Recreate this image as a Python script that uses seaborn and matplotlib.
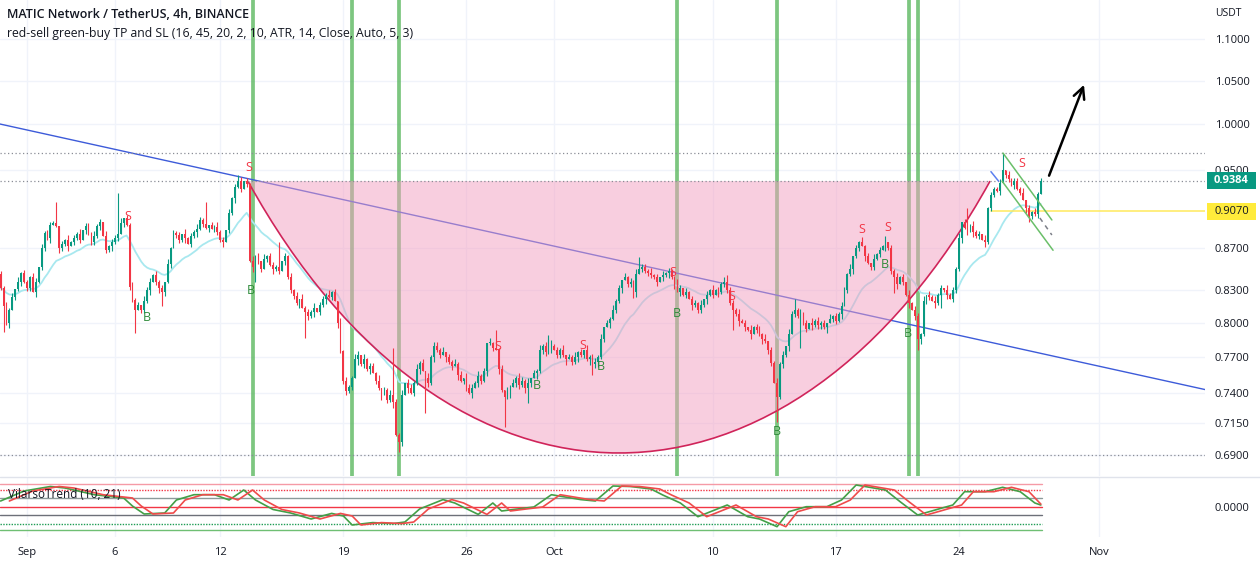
import numpy as np
import pandas as pd
import matplotlib
matplotlib.use("Agg")
import matplotlib.pyplot as plt
from matplotlib.path import Path
from matplotlib.patches import PathPatch, Rectangle
from matplotlib.transforms import IdentityTransform
from matplotlib.ticker import NullLocator, NullFormatter
import seaborn as sns

# ---------------- data (4h candles, MATIC/USDT, Aug 30 12:00 -> Oct 28) ----------------
closes = [
    0.832, 0.815, 0.800, 0.812, 0.824, 0.831, 0.838, 0.846, 0.838, 0.832,
    0.842, 0.828, 0.838, 0.852, 0.870, 0.885, 0.880, 0.893, 0.895, 0.892,
    0.870, 0.874, 0.878, 0.872, 0.876, 0.880, 0.884, 0.878, 0.888, 0.892,
    0.884, 0.876, 0.882, 0.892, 0.896, 0.882, 0.868, 0.872, 0.876, 0.880,
    0.884, 0.895, 0.900, 0.893, 0.833, 0.821, 0.812, 0.816, 0.812, 0.820,
    0.830, 0.838, 0.844, 0.838, 0.832, 0.828, 0.838, 0.855, 0.870, 0.885,
    0.883, 0.878, 0.884, 0.880, 0.874, 0.882, 0.886, 0.889, 0.898, 0.894,
    0.890, 0.893, 0.889, 0.891, 0.886, 0.878, 0.876, 0.888, 0.905, 0.920,
    0.932, 0.938, 0.930, 0.938, 0.935, 0.858, 0.852, 0.862, 0.858, 0.850,
    0.860, 0.862, 0.854, 0.850, 0.852, 0.848, 0.858, 0.862, 0.842, 0.830,
    0.825, 0.818, 0.822, 0.814, 0.810, 0.806, 0.810, 0.814, 0.810, 0.816,
    0.822, 0.826, 0.824, 0.828, 0.820, 0.800, 0.775, 0.750, 0.741, 0.745,
    0.752, 0.768, 0.772, 0.764, 0.768, 0.760, 0.762, 0.756, 0.750, 0.744,
    0.738, 0.742, 0.734, 0.738, 0.732, 0.706, 0.700, 0.738, 0.748, 0.744,
    0.740, 0.748, 0.760, 0.765, 0.758, 0.752, 0.748, 0.770, 0.780, 0.776,
    0.772, 0.774, 0.770, 0.766, 0.762, 0.764, 0.755, 0.750, 0.752, 0.744,
    0.740, 0.744, 0.748, 0.754, 0.750, 0.758, 0.782, 0.782, 0.778, 0.776,
    0.760, 0.742, 0.736, 0.740, 0.745, 0.748, 0.752, 0.746, 0.750, 0.744,
    0.748, 0.752, 0.756, 0.758, 0.776, 0.780, 0.774, 0.778, 0.780, 0.776,
    0.772, 0.776, 0.772, 0.768, 0.770, 0.766, 0.770, 0.774, 0.772, 0.776,
    0.768, 0.770, 0.764, 0.766, 0.770, 0.786, 0.796, 0.800, 0.804, 0.812,
    0.820, 0.832, 0.840, 0.842, 0.836, 0.838, 0.828, 0.845, 0.850, 0.852,
    0.848, 0.846, 0.844, 0.842, 0.838, 0.842, 0.844, 0.846, 0.848, 0.842,
    0.836, 0.828, 0.832, 0.826, 0.828, 0.822, 0.816, 0.818, 0.812, 0.816,
    0.822, 0.826, 0.830, 0.826, 0.830, 0.828, 0.836, 0.838, 0.830, 0.818,
    0.812, 0.808, 0.802, 0.800, 0.796, 0.794, 0.790, 0.796, 0.794, 0.790,
    0.786, 0.784, 0.776, 0.765, 0.748, 0.736, 0.764, 0.772, 0.780, 0.790,
    0.808, 0.812, 0.806, 0.808, 0.800, 0.795, 0.800, 0.798, 0.802, 0.798,
    0.800, 0.796, 0.800, 0.804, 0.806, 0.802, 0.808, 0.815, 0.830, 0.845,
    0.850, 0.862, 0.870, 0.876, 0.872, 0.862, 0.856, 0.852, 0.860, 0.864,
    0.868, 0.872, 0.876, 0.870, 0.848, 0.842, 0.836, 0.842, 0.838, 0.826,
    0.818, 0.812, 0.806, 0.786, 0.790, 0.820, 0.826, 0.824, 0.820, 0.818,
    0.826, 0.832, 0.830, 0.826, 0.822, 0.830, 0.850, 0.880, 0.896, 0.890,
    0.886, 0.892, 0.886, 0.882, 0.884, 0.878, 0.876, 0.910, 0.924, 0.930,
    0.928, 0.936, 0.950, 0.944, 0.940, 0.934, 0.938, 0.930, 0.926, 0.918,
    0.910, 0.902, 0.906, 0.904, 0.925, 0.9384,
]
first_open = 0.845
wick_unit = 0.0015
upper_wicks = ("2131203121" "1320312213" "0213121302" "2131203122" "1302131203" "2213120312"
               "1203121321" "3021312031" "2130213120" "3122130213" "1203121302" "2131203121"
               "1320312213" "0213121302" "2131203122" "1302131203" "2213120312" "1203121321"
               "3021312031" "2130213120" "3122130213" "1203121302" "2131203121" "1320312213"
               "0213121302" "2131203122" "1302131203" "2213120312" "1203121321" "3021312031"
               "2130213120" "3122130213" "1203121302" "2131203121" "1320312213" "0213121302")
lower_wicks = ("1213021312" "2031221301" "3213021203" "1221302131" "2031213022" "1302312130"
               "2213021312" "1302213021" "3120213122" "0213120312" "2130221302" "1312031221"
               "2031213021" "3021312203" "1213022131" "2031203122" "1302213120" "3121302213"
               "1203122130" "2213021312" "1302312031" "2130221302" "1221302131" "3021203122"
               "1312031221" "2130213021" "3122031213" "0213120312" "2130221302" "1312031221"
               "2031213021" "3021312203" "1213022131" "2031203122" "1302213120" "3121302213")
high_marks = {19: 0.916, 40: 0.926, 70: 0.916, 81: 0.944, 95: 0.876, 134: 0.778,
              169: 0.794, 187: 0.789, 218: 0.861, 248: 0.844, 271: 0.822, 294: 0.881,
              302: 0.882, 330: 0.910, 342: 0.968}
low_marks = {1: 0.792, 46: 0.791, 55: 0.815, 76: 0.873, 87: 0.838, 104: 0.787,
             136: 0.692, 145: 0.723, 172: 0.712, 180: 0.731, 202: 0.755, 216: 0.823,
             250: 0.794, 265: 0.716, 273: 0.778, 305: 0.827, 313: 0.776, 321: 0.814,
             351: 0.896}

# date axis (candle index of each label)
date_tick_idx = [9, 39, 75, 117, 159, 189, 243, 285, 327, 375]
date_tick_lab = ["Sep", "6", "12", "19", "26", "Oct", "10", "17", "24", "Nov"]
price_ticks = [0.69, 0.715, 0.74, 0.77, 0.80, 0.83, 0.87, 0.95, 1.00, 1.05, 1.10]

# signal vertical lines (candle index)
signal_idx = [86, 120, 136, 231, 265, 310, 313]
# S / B markers: (index, price)
sell_marks = [(43.5, 0.901), (84.8, 0.952), (169.8, 0.779), (198.8, 0.780), (229.5, 0.847),
              (249.6, 0.824), (294.0, 0.888), (302.9, 0.890), (348.6, 0.957)]
buy_marks = [(50.0, 0.805), (85.5, 0.830), (183.0, 0.746), (204.9, 0.762), (230.8, 0.809),
             (265.0, 0.708), (301.9, 0.854), (309.7, 0.791)]

# drawings
trend_pts = [(-0.2, 1.000), (411.06, 0.7425)]
cup_pts = [(84.4, 0.938), (152.7, 0.6247), (269.4, 0.6247), (337.7, 0.938)]
chan_upper = [(342.1, 0.968), (358.8, 0.898)]
chan_lower = [(341.8, 0.938), (359.2, 0.868)]
blue_seg = [(338.0, 0.948), (340.6, 0.938)]
dash_seg = [(354.7, 0.900), (358.8, 0.883)]
arrow_tail = (357.5, 0.941)
arrow_head = (370.1, 1.048)
dotted_levels = [0.968, 0.9384, 0.69]
last_price = 0.9384
yellow_level = 0.9070
yellow_start = 338

# VilarsoTrend oscillator
osc_idx = [0, 8, 17, 22, 32, 42, 45, 49, 56, 60, 66, 73, 78, 83, 87, 93, 99, 106, 113, 117,
           120, 127, 134, 138, 143, 151, 155, 163, 168, 171, 175, 182, 188, 198, 203, 209, 215,
           222, 226, 232, 238, 248, 255, 259, 265, 269, 275, 282, 287, 292, 302, 307, 313, 321,
           325, 329, 336, 342, 348, 353, 355]
osc_val = [0.6, 1.6, 2.05, 1.9, 1.23, 0.9, 0.1, -0.7, -0.6, 0.7, 1.23, 1.23, 0.7, 1.7, 0.7,
           -0.25, -0.6, -1.2, -0.64, -0.9, -1.8, -1.56, -1.66, -1.5, -0.2, 0.74, 0.4, -0.74,
           0.4, -0.4, -0.25, 0.0, 1.23, 0.74, 0.6, 2.1, 2.05, 1.8, 1.2, 0.4, -0.97, 0.2, -0.97,
           -1.2, -1.97, -0.47, 0.03, 0.03, 0.7, 2.2, 1.7, 0.53, -0.8, -0.13, 0.2, 1.53, 1.53,
           1.97, 1.53, 0.4, 0.2]
osc_levels = [2.3, 1.7, 0.9, 0.0, -0.8, -1.7, -2.3]

# ---------------- styling ----------------
sns.set_style("white")
plt.rcParams["font.family"] = ["Open Sans", "DejaVu Sans"]
GREEN = "#089981"
RED = "#f23645"
TXT = "#131722"
GRID = "#f0f3fa"

W, H = 1260, 565
fig = plt.figure(figsize=(W / 100, H / 100), dpi=100)
ax = fig.add_axes([0, 1 - 476 / H, 1205 / W, 476 / H])
ax2 = fig.add_axes([0, 1 - 537 / H, 1205 / W, 59 / H])

n = len(closes)
idx = np.arange(n)
close = np.array(closes)
open_ = np.r_[first_open, close[:-1]]
up_w = np.array([int(c) for c in upper_wicks[:n]]) * wick_unit
lo_w = np.array([int(c) for c in lower_wicks[:n]]) * wick_unit
high = np.maximum(open_, close) + up_w
low = np.minimum(open_, close) - lo_w
for k, v in high_marks.items():
    high[k] = max(high[k], v)
for k, v in low_marks.items():
    low[k] = min(low[k], v)
df = pd.DataFrame(dict(idx=idx, open=open_, close=close, high=high, low=low))
df["ema"] = df["close"].ewm(span=20, adjust=False).mean()

XMIN, XMAX = -0.2, 411.06
ax.set_yscale("log")
ax.set_xlim(XMIN, XMAX)
ax.set_ylim(0.6739, 1.1492)

# grid
ax.set_yticks(price_ticks)
ax.set_yticklabels([f"{p:.4f}" for p in price_ticks])
ax.yaxis.set_minor_locator(NullLocator())
ax.yaxis.set_minor_formatter(NullFormatter())
ax.yaxis.tick_right()
ax.set_xticks(date_tick_idx)
ax.set_xticklabels([])
ax.grid(True, color=GRID, lw=1, zorder=0)
ax.tick_params(axis="y", length=0, pad=7, labelsize=8, labelcolor=TXT)
ax.tick_params(axis="x", length=0)
for s in ax.spines.values():
    s.set_visible(False)

# signal lines
for i in signal_idx:
    ax.axvline(i, color="#5cb860", alpha=0.8, lw=2.7, zorder=1.5)

# moving average
sns.lineplot(data=df, x="idx", y="ema", ax=ax, color="#a8e8ef", lw=1.3, zorder=2)
ax.set_xlabel("")
ax.set_ylabel("")

# trend line
ax.plot([p[0] for p in trend_pts], [p[1] for p in trend_pts], color="#3d5bd9", lw=1, zorder=2.2)

# cup
codes = [Path.MOVETO, Path.CURVE4, Path.CURVE4, Path.CURVE4]
cup_fill = PathPatch(Path(cup_pts + [cup_pts[0]], codes + [Path.CLOSEPOLY]),
                     fc="#f39fc1", ec="none", alpha=0.5, zorder=3)
ax.add_patch(cup_fill)
ax.add_patch(PathPatch(Path(cup_pts, codes), fc="none", ec="#d0245a", lw=1.2, zorder=3.1))

# levels
for lv in dotted_levels:
    ax.axhline(lv, color="#8a8d96", lw=0.9, ls=(0, (1, 2)), zorder=3.2)
ax.plot([yellow_start, XMAX], [yellow_level] * 2, color="#ffe95c", lw=1.1, zorder=3.2)

# candles
cols = np.where(close >= open_, GREEN, RED)
ax.vlines(idx, low, high, colors=cols, lw=0.8, zorder=4)
body = np.maximum(np.abs(close - open_), 0.0009)
ax.bar(idx, body, bottom=np.minimum(open_, close), width=0.62, color=cols, lw=0, zorder=4)

# channel & other drawings
for seg, c, ls in [(chan_upper, "#6abf69", "-"), (chan_lower, "#6abf69", "-"),
                   (blue_seg, "#5b7ff0", "-"), (dash_seg, "#7c7f88", (0, (3, 3)))]:
    ax.plot([p[0] for p in seg], [p[1] for p in seg], color=c, lw=1.1, ls=ls, zorder=5)
ax.annotate("", xy=arrow_head, xytext=arrow_tail,
            arrowprops=dict(arrowstyle="->", lw=1.8, color="black", mutation_scale=20), zorder=6)

# S/B labels
for x, y in sell_marks:
    ax.text(x, y, "S", color=RED, fontsize=9, ha="center", va="center", zorder=6)
for x, y in buy_marks:
    ax.text(x, y, "B", color="#2e8b3a", fontsize=9, ha="center", va="center", zorder=6)

# ---------------- indicator panel ----------------
ax2.set_xlim(XMIN, XMAX)
ax2.set_ylim(-3.0, 2.9)
lvl_style = [("#f59aa6", "-"), (RED, (0, (1, 1))), ("#8c9a9a", "-"), (RED, "-"),
             ("#6d7079", "-"), ("#1f9d55", (0, (1, 1))), ("#6fbf73", "-")]
for lv, (c, ls) in zip(osc_levels, lvl_style):
    ax2.plot([XMIN, 355.5], [lv, lv], color=c, lw=1.0, ls=ls, zorder=2)
osc_df = pd.DataFrame(dict(i=osc_idx, v=osc_val))
osc_df["i_sig"] = np.minimum(osc_df["i"] + 3, 355)
sns.lineplot(data=osc_df, x="i", y="v", ax=ax2, color="#43a047", lw=1.2, zorder=3)
sns.lineplot(data=osc_df, x="i_sig", y="v", ax=ax2, color="#ef4b4b", lw=1.2, zorder=3)
ax2.set_xlabel("")
ax2.set_ylabel("")
ax2.set_yticks([0.0])
ax2.set_yticklabels(["0.0000"])
ax2.yaxis.tick_right()
ax2.set_xticks(date_tick_idx)
ax2.set_xticklabels(date_tick_lab)
ax2.grid(True, axis="x", color=GRID, lw=1, zorder=0)
ax2.tick_params(axis="y", length=0, pad=7, labelsize=8, labelcolor=TXT)
ax2.tick_params(axis="x", length=0, pad=7, labelsize=8, labelcolor=TXT)
for s in ax2.spines.values():
    s.set_visible(False)

# panel separator
fig.add_artist(plt.Line2D([0, 1], [1 - 477 / H] * 2, color="#e0e3eb", lw=1, transform=fig.transFigure))

# texts
fig.text(7 / W, 1 - 15 / H, "MATIC Network / TetherUS, 4h, BINANCE", fontsize=9,
         fontweight="semibold", color=TXT, va="center", ha="left")
fig.text(7 / W, 1 - 33 / H,
         "red-sell green-buy TP and SL (16, 45, 20, 2, 10, ATR, 14, Close, Auto, 5, 3)",
         fontsize=8.8, color=TXT, va="center", ha="left")
fig.text(8 / W, 1 - 494 / H, "VilarsoTrend (10, 21)", fontsize=8.5, color=TXT, va="center", ha="left")
fig.text(1215 / W, 1 - 14 / H, "USDT", fontsize=7.5, color=TXT, va="center", ha="left")


def price_box(price, text, fc, tc, weight):
    yd = ax.transData.transform((0, price))[1]
    fig.add_artist(Rectangle((1207, yd - 8.5), 49, 17, transform=IdentityTransform(),
                             fc=fc, ec="none", zorder=10))
    fig.text(1231.5 / W, yd / H, text, ha="center", va="center", color=tc, fontsize=8,
             fontweight=weight, zorder=11)


price_box(last_price, "0.9384", GREEN, "white", "bold")
price_box(yellow_level, "0.9070", "#ffeb3b", TXT, "normal")

fig.savefig("out.png", dpi=100)
